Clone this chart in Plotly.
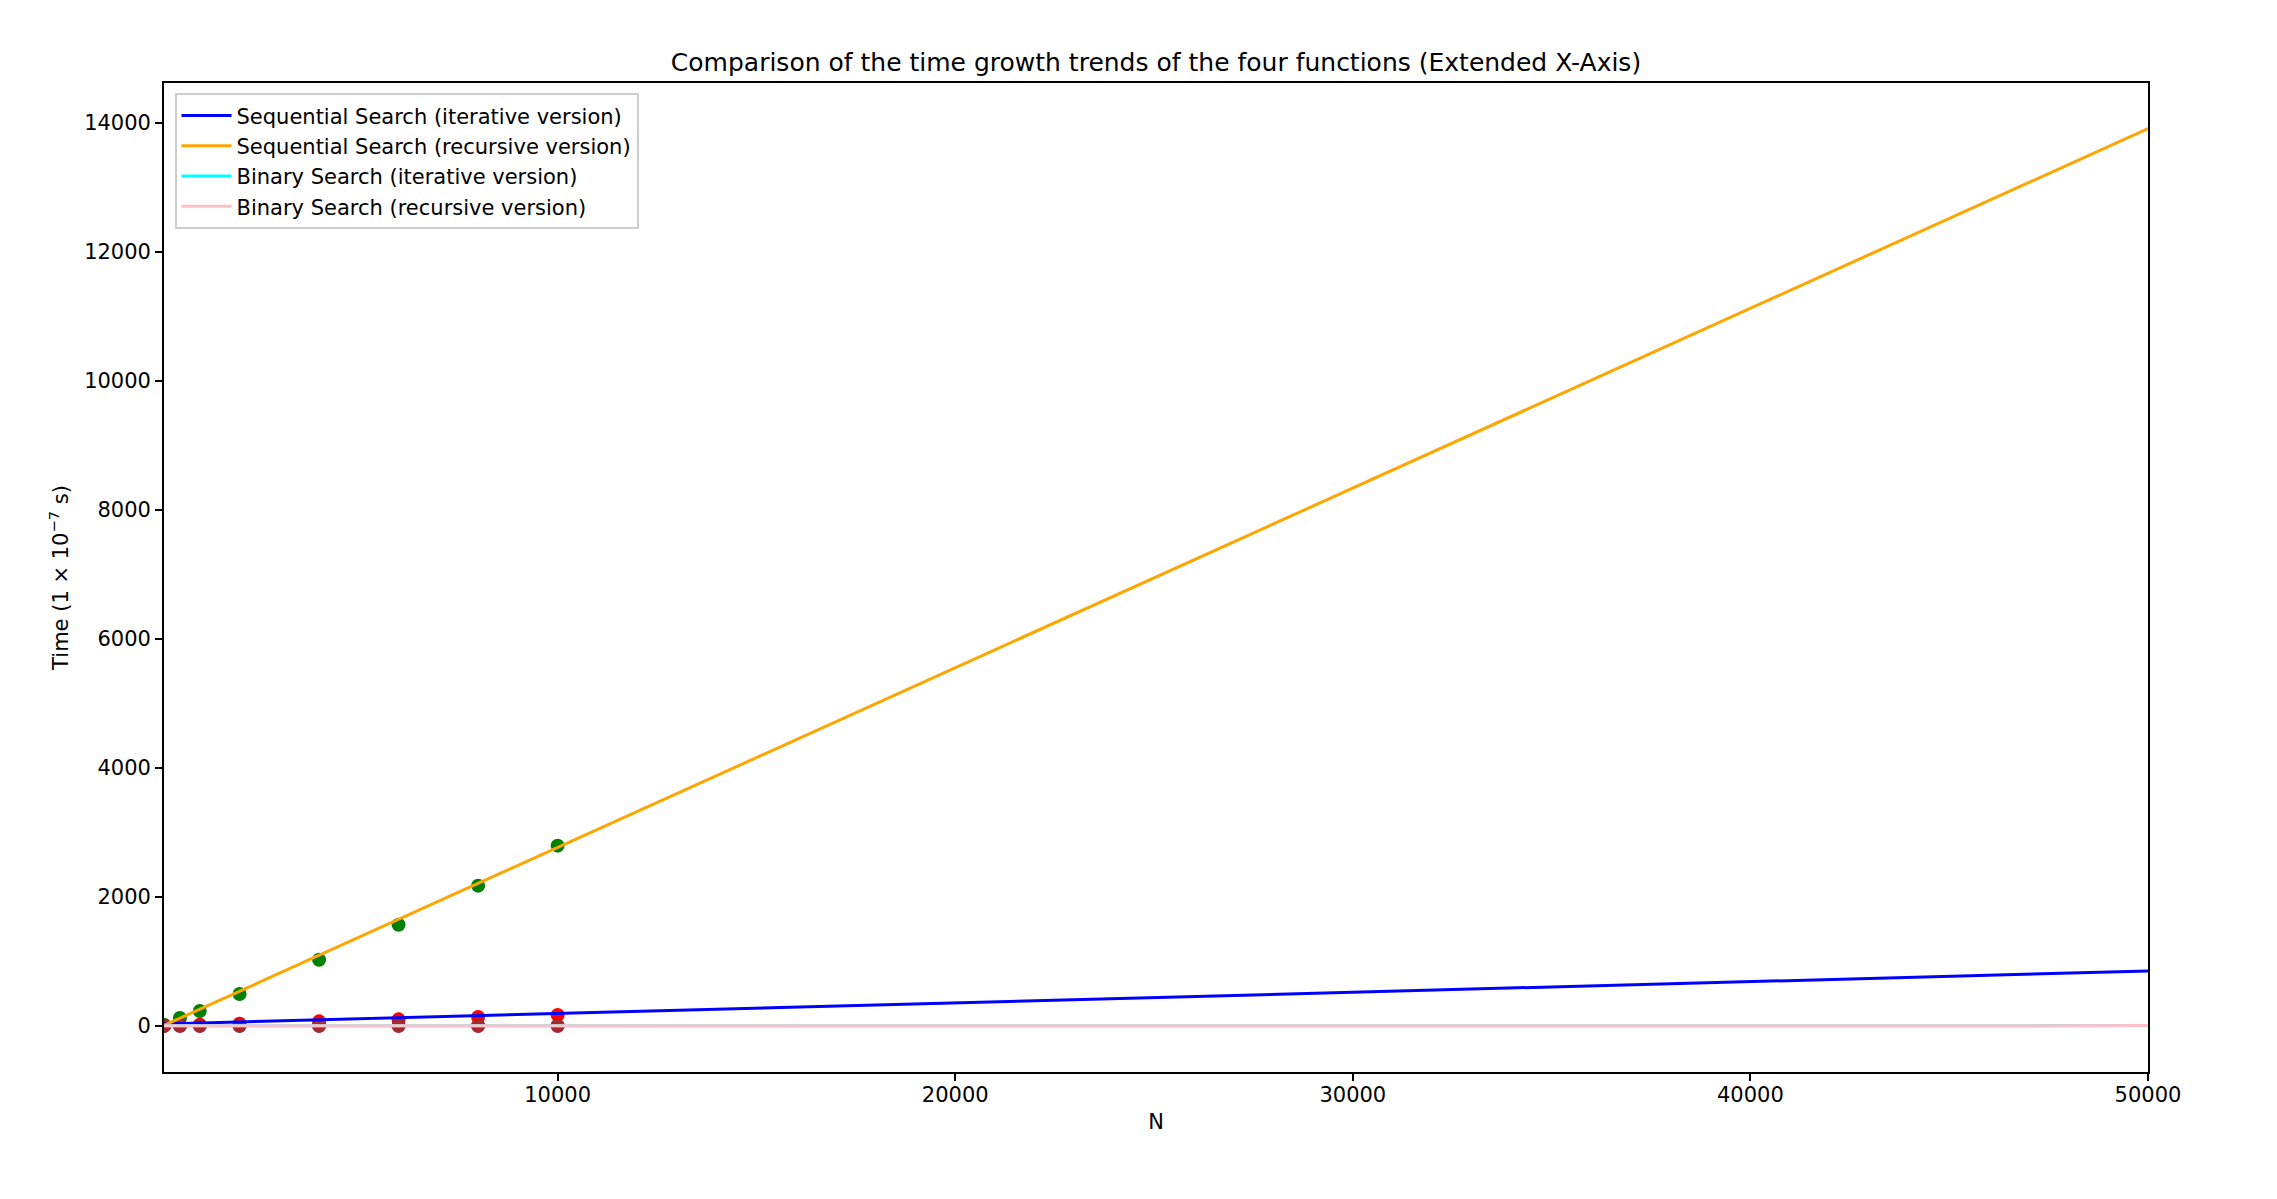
import plotly.graph_objects as go

# measured input sizes
n_values = [100, 500, 1000, 2000, 4000, 6000, 8000, 10000]

# measured times (1e-7 s)
seq_iter_times = [3, 10, 20, 36, 72, 103, 140, 172]
seq_rec_times = [20, 124, 233, 496, 1028, 1571, 2176, 2796]
bin_iter_times = [2, 3, 3, 4, 4, 4, 5, 5]
bin_rec_times = [2, 3, 3, 4, 4, 4, 5, 5]

# fitted trend lines over the extended x axis
trend_n = [100, 50000]
seq_iter_trend = [31, 853]
seq_rec_trend = [10, 13913]
bin_iter_trend = [4, 6]
bin_rec_trend = [4, 6]

x_ticks = [10000, 20000, 30000, 40000, 50000]
y_ticks = [0, 2000, 4000, 6000, 8000, 10000, 12000, 14000]

font = "DejaVu Sans"

fig = go.Figure()

# scatter of measured points (drawn below the lines, like matplotlib)
for ys, col in [(seq_rec_times, "green"), (seq_iter_times, "red"),
                (bin_iter_times, "purple"), (bin_rec_times, "brown")]:
    fig.add_trace(go.Scatter(x=n_values, y=ys, mode="markers",
                             marker=dict(color=col, size=14, line=dict(width=0)),
                             showlegend=False, hoverinfo="x+y"))

trends = [
    ("Sequential Search (iterative version)", seq_iter_trend, "blue"),
    ("Sequential Search (recursive version)", seq_rec_trend, "orange"),
    ("Binary Search (iterative version)", bin_iter_trend, "cyan"),
    ("Binary Search (recursive version)", bin_rec_trend, "pink"),
]
for name, ys, col in trends:
    fig.add_trace(go.Scatter(x=trend_n, y=ys, mode="lines", name=name,
                             line=dict(color=col, width=3)))

axis_common = dict(showline=True, mirror=True, linecolor="black", linewidth=1.7,
                   ticks="outside", ticklen=7, tickwidth=1.7, tickcolor="black",
                   showgrid=False, zeroline=False,
                   tickfont=dict(family=font, size=21, color="black"))

# the page body adds an 8px margin, so the figure is sized and placed to compensate
fig.update_layout(
    width=2261, height=1183,
    plot_bgcolor="white", paper_bgcolor="white",
    margin=dict(l=156, r=121, t=75, b=119),
    font=dict(family=font, size=21, color="black"),
    title=dict(text="Comparison of the time growth trends of the four functions (Extended X-Axis)",
               x=(156 + 2140) / 2 / 2261, xanchor="center",
               y=1 - 54 / 1183, yanchor="middle",
               font=dict(family=font, size=25, color="black")),
    xaxis=dict(range=[100, 50000], tickvals=x_ticks, ticktext=[str(v) for v in x_ticks],
               ticklabelstandoff=-4,
               title=dict(text="N", standoff=8, font=dict(size=21)), **axis_common),
    yaxis=dict(range=[-713, 14620], tickvals=y_ticks, ticktext=[str(v) for v in y_ticks],
               title=dict(text="Time (1 × 10<sup>−7</sup> s)", standoff=10, font=dict(size=21)),
               **axis_common),
    legend=dict(x=0.0053, y=0.9896, xanchor="left", yanchor="top",
                bgcolor="rgba(255,255,255,0.8)", bordercolor="#cccccc", borderwidth=2,
                font=dict(family=font, size=21), tracegroupgap=0, itemwidth=50),
    hovermode="closest",
)

fig.write_html("out.html")
